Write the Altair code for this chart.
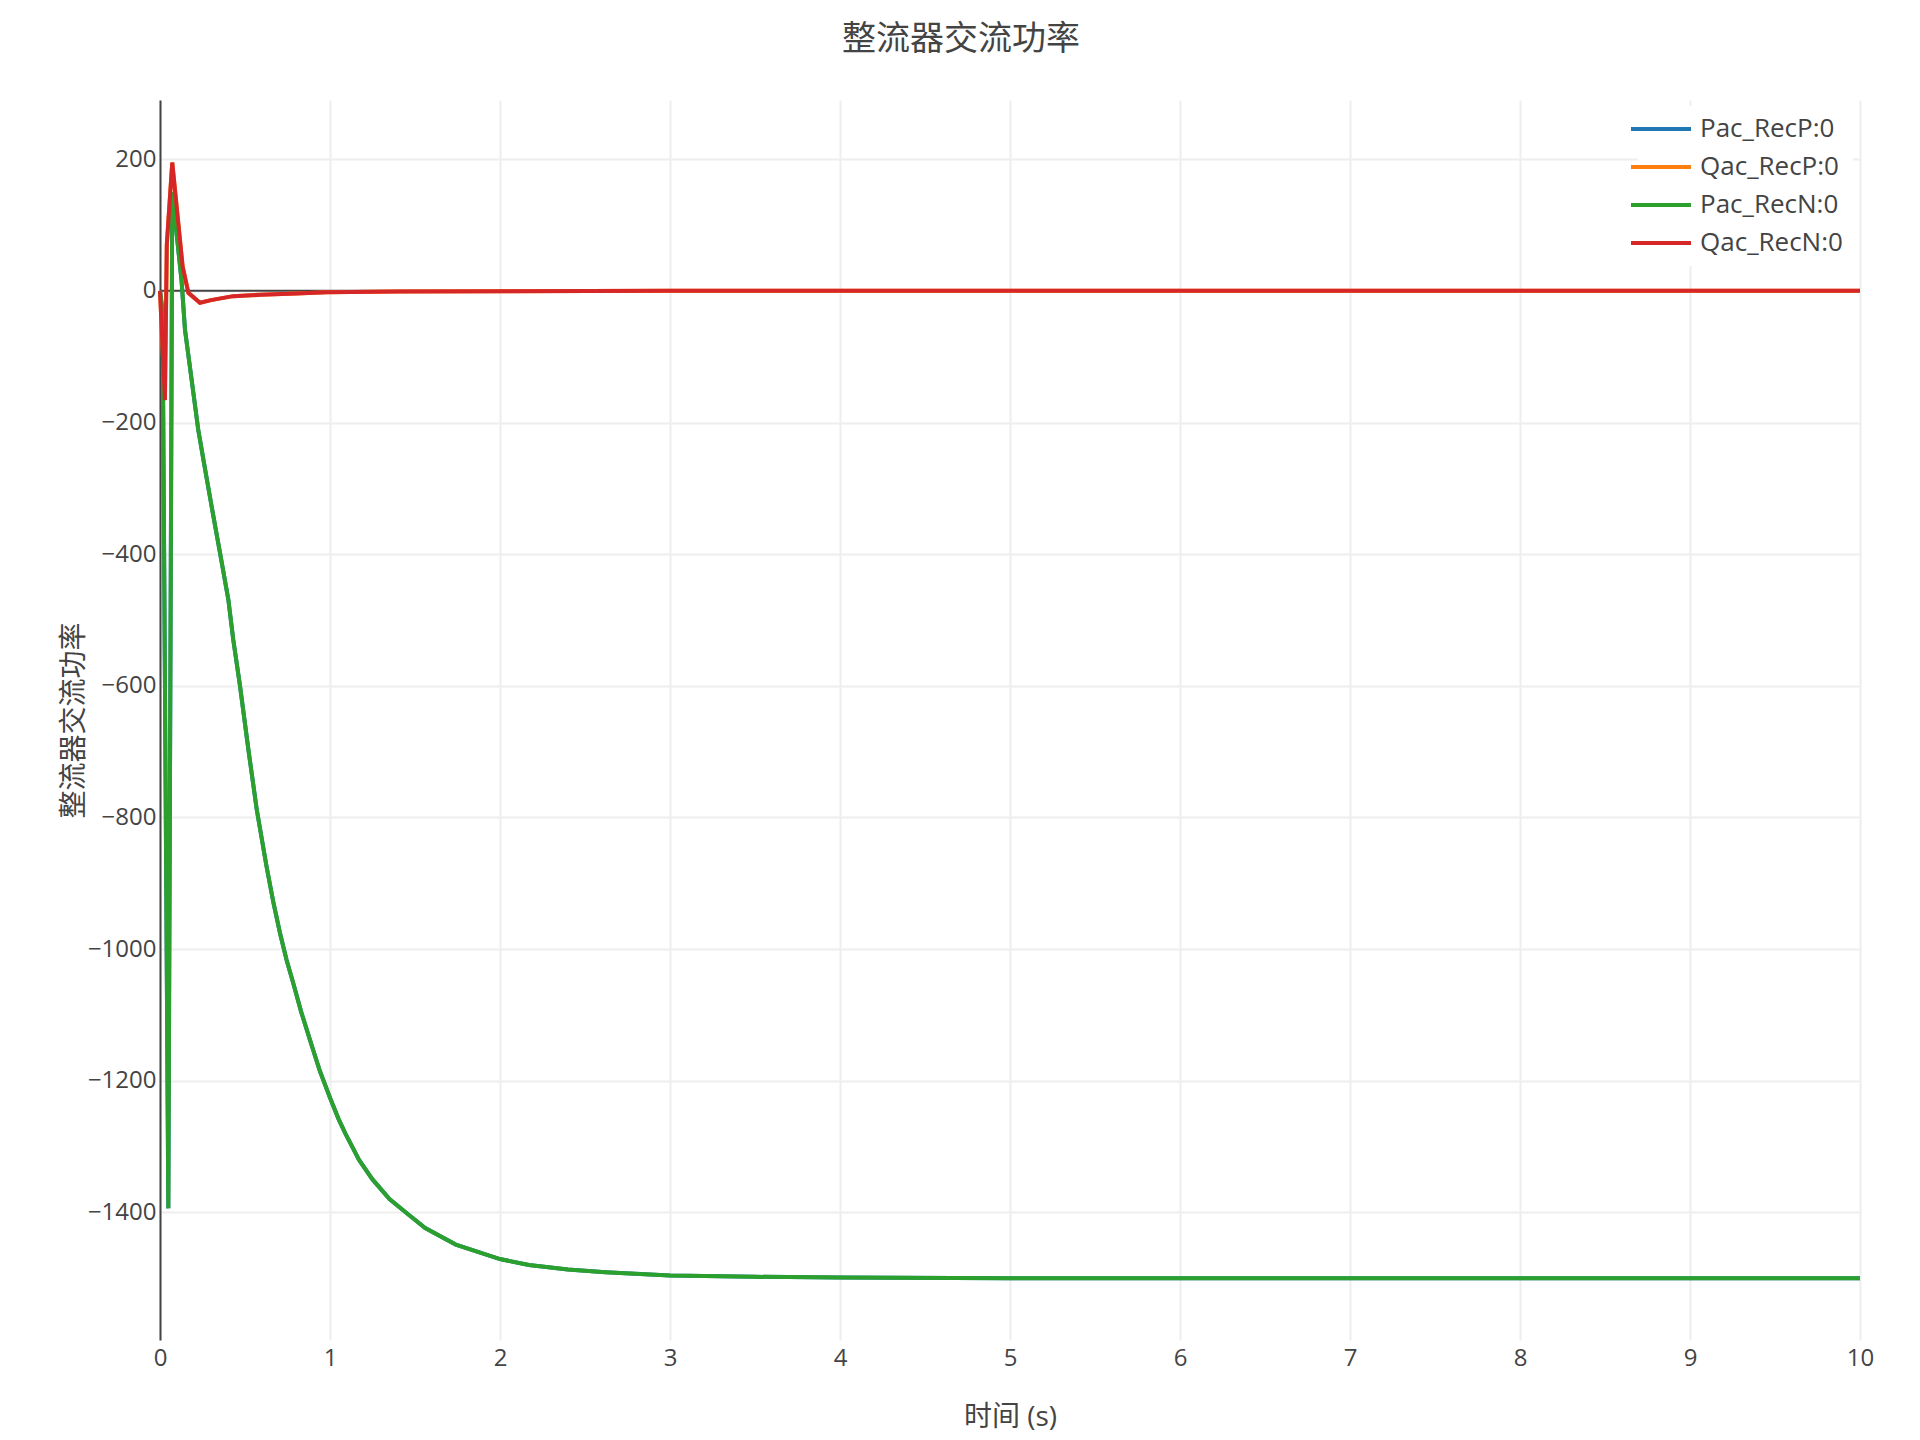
import altair as alt
import pandas as pd

FONT = "Open Sans, Noto Sans CJK SC, sans-serif"
TEXT = "#444"

SERIES = ["Pac_RecP:0", "Qac_RecP:0", "Pac_RecN:0", "Qac_RecN:0"]
COLORS = ["#1f77b4", "#ff7f0e", "#2ca02c", "#d62728"]

# active power (s, value); the RecP trace lies exactly under the RecN one
T_PAC = [0, 0.015, 0.049, 0.072, 0.127, 0.147, 0.186, 0.225, 0.255, 0.304,
         0.353, 0.402, 0.431, 0.47, 0.52, 0.569, 0.627, 0.666, 0.706, 0.745,
         0.784, 0.83, 0.882, 0.94, 1.0, 1.05, 1.09, 1.17, 1.25, 1.35,
         1.45, 1.56, 1.74, 2.0, 2.17, 2.4, 2.62, 3.0, 3.5, 4.0,
         5.0, 6.0, 7.0, 8.0, 9.0, 10.0]
PAC_RECN = [0, -30, -1394, 150, 15, -59, -135, -211, -256, -328,
            -398, -469, -530, -599, -697, -788, -875, -928, -976, -1017,
            -1052, -1095, -1138, -1185, -1226, -1258, -1280, -1320, -1350, -1380,
            -1401, -1424, -1449, -1471, -1480, -1487, -1491, -1496, -1498, -1499,
            -1500, -1500, -1500, -1500, -1500, -1500]
PAC_RECP = list(PAC_RECN)

# reactive power, same overlap between RecP and RecN
T_QAC = [0, 0.029, 0.04, 0.072, 0.098, 0.133, 0.167, 0.235, 0.3, 0.43,
         0.59, 0.8, 0.98, 1.4, 2.0, 3.0, 5.0, 10.0]
QAC_RECN = [0, -166, 70, 195, 128, 37, -3, -18, -14, -8,
            -6, -4, -2, -1, -0.5, 0, 0, 0]
QAC_RECP = list(QAC_RECN)

Y_TICKS = [-1400, -1200, -1000, -800, -600, -400, -200, 0, 200]
X_TICKS = [0, 1, 2, 3, 4, 5, 6, 7, 8, 9, 10]

frames = []
for name, t, v in [
    (SERIES[0], T_PAC, PAC_RECP),
    (SERIES[1], T_QAC, QAC_RECP),
    (SERIES[2], T_PAC, PAC_RECN),
    (SERIES[3], T_QAC, QAC_RECN),
]:
    frames.append(pd.DataFrame({"series": name, "t": t, "value": v}))
data = pd.concat(frames, ignore_index=True)

x_enc = alt.X(
    "t:Q",
    scale=alt.Scale(domain=[0, 10], nice=False),
    axis=alt.Axis(
        values=X_TICKS, domain=False, ticks=False, labelPadding=6,
        labelFlush=False, title="时间 (s)", titleY=77, titleBaseline="middle",
    ),
)
y_enc = alt.Y(
    "value:Q",
    scale=alt.Scale(domain=[-1594, 290], nice=False, zero=False),
    axis=alt.Axis(
        values=Y_TICKS, format="d", ticks=False, labelPadding=4, domain=True,
        domainColor=TEXT, domainWidth=2, labelFlush=False,
        labelExpr="replace(datum.label, '-', '\u2212')",
        title="整流器交流功率", titleX=-86, titleY=620,
        titleAlign="center", titleBaseline="middle",
    ),
)

zero = (
    alt.Chart(pd.DataFrame({"value": [0]}))
    .mark_rule(color=TEXT, strokeWidth=2)
    .encode(y=alt.Y("value:Q"))
)

lines = (
    alt.Chart(data)
    .mark_line(strokeWidth=4, interpolate="linear")
    .encode(
        x=x_enc,
        y=y_enc,
        color=alt.Color(
            "series:N",
            scale=alt.Scale(domain=SERIES, range=COLORS),
            sort=SERIES,
            legend=alt.Legend(
                title=None, orient="none", legendX=1478, legendY=6,
                symbolType="M-3,0H3", symbolSize=400, symbolStrokeWidth=4,
                labelFontSize=26, labelColor=TEXT, labelFont=FONT,
                labelOffset=26, rowPadding=12, padding=10,
                fillColor="white", labelLimit=400,
            ),
        ),
        detail="series:N",
    )
)

chart = (
    alt.layer(zero, lines)
    .properties(
        width=1700,
        height=1240,
        autosize=alt.AutoSizeParams(type="none"),
        padding={"left": 152, "top": 92, "right": 52, "bottom": 92},
        title=alt.TitleParams(
            "整流器交流功率", fontSize=34, color=TEXT, font=FONT,
            fontWeight="normal", anchor="middle", dx=-49, offset=26,
            baseline="middle",
        ),
    )
    .configure(background="white")
    .configure_view(stroke=None)
    .configure_axis(
        grid=True, gridColor="#eeeeee", gridWidth=2,
        labelFont=FONT, labelFontSize=24, labelColor=TEXT,
        titleFont=FONT, titleFontSize=28, titleColor=TEXT, titleFontWeight="normal",
    )
)

chart.save("out.html", embed_options={"renderer": "svg", "actions": False})
